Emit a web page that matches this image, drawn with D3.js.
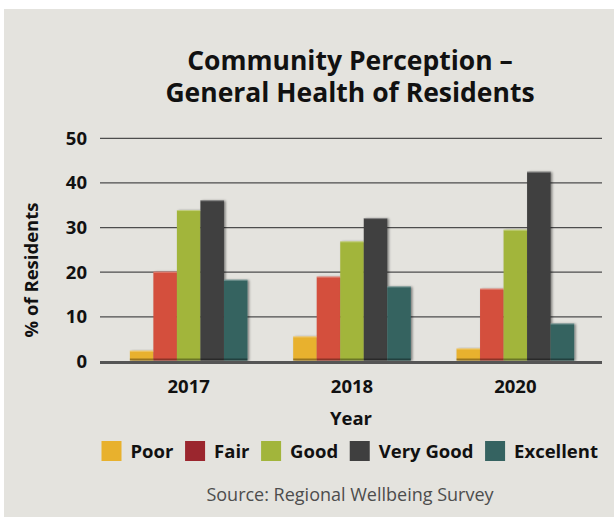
<!DOCTYPE html>
<html>
<head>
<meta charset="utf-8">
<script src="https://cdn.jsdelivr.net/npm/d3@7"></script>
<style>
  body { margin: 0; background: #fff; }
  svg { display: block; font-family: "Open Sans", sans-serif; }
</style>
</head>
<body>
<div id="chart"></div>
<script>
// data
var years = ["2017", "2018", "2020"];
var ratings = ["Poor", "Fair", "Good", "Very Good", "Excellent"];
var poor = [2.2, 5.4, 2.7];
var fair = [19.9, 18.8, 16.1];
var good = [33.7, 26.7, 29.3];
var veryGood = [35.9, 31.9, 42.3];
var excellent = [18.1, 16.6, 8.3];
var yTicks = [0, 10, 20, 30, 40, 50];

var barColors = ["#e8b12d", "#d44f3c", "#a2b53b", "#3f3f3f", "#356361"];
var legendColors = ["#e8b12d", "#9b262e", "#a2b53b", "#3f3f3f", "#356361"];

var series = [poor, fair, good, veryGood, excellent];
var rows = years.map(function(y, i) {
  return { year: y, values: ratings.map(function(r, j) { return { key: r, idx: j, value: series[j][i] }; }) };
});

var W = 614, H = 517;
var svg = d3.select("#chart").append("svg").attr("width", W).attr("height", H);

// bar shadow
var defs = svg.append("defs");
var f = defs.append("filter").attr("id", "shadow").attr("x", "-20%").attr("y", "-10%").attr("width", "150%").attr("height", "130%");
f.append("feDropShadow").attr("dx", 1.6).attr("dy", 0.5).attr("stdDeviation", 0.9)
  .attr("flood-color", "#000").attr("flood-opacity", 0.45);

svg.append("rect").attr("x", 4).attr("y", 9).attr("width", W - 4).attr("height", H - 9).attr("fill", "#e4e3de");

// title
var title = svg.append("text").attr("text-anchor", "middle").attr("font-weight", 700)
  .attr("font-size", 26.5).attr("fill", "#111");
title.append("tspan").attr("x", 350).attr("y", 70).text("Community Perception \u2013");
title.append("tspan").attr("x", 350).attr("y", 102).text("General Health of Residents");

var x0 = d3.scaleBand().domain(years).range([107, 597]).paddingInner(0.28).paddingOuter(0.14);
var x1 = d3.scaleBand().domain(ratings).range([0, x0.bandwidth()]);
var y = d3.scaleLinear().domain([0, 50]).range([360.5, 137.3]);

// gridlines + tick labels
var yAxis = d3.axisLeft(y).tickValues(yTicks).tickSize(-502).tickPadding(12).tickFormat(d3.format("d"));
var gy = svg.append("g").attr("transform", "translate(100,0)").call(yAxis);
gy.select(".domain").remove();
gy.selectAll(".tick line").attr("stroke", "#4d4d4d").attr("stroke-width", 1.3)
  .attr("transform", "translate(0,0.5)")
  .filter(function(d) { return d === 0; }).attr("stroke-opacity", 0);
gy.selectAll(".tick text").attr("font-size", 18.5).attr("font-weight", 700).attr("fill", "#111")
  .attr("font-family", "Open Sans").attr("x", -13).attr("dy", "0.38em");

// bars
var groups = svg.append("g").selectAll("g").data(rows).enter().append("g")
  .attr("transform", function(d) { return "translate(" + x0(d.year) + ",0)"; });

groups.selectAll("rect.bar").data(function(d) { return d.values; }).enter().append("rect")
  .attr("class", "bar")
  .attr("x", function(d) { return x1(d.key); })
  .attr("y", function(d) { return y(d.value); })
  .attr("width", x1.bandwidth())
  .attr("height", function(d) { return y(0) - y(d.value); })
  .attr("fill", function(d) { return barColors[d.idx]; })
  .attr("filter", "url(#shadow)");

// thin highlight on top edge
groups.selectAll("rect.hl").data(function(d) { return d.values; }).enter().append("rect")
  .attr("class", "hl")
  .attr("x", function(d) { return x1(d.key); })
  .attr("y", function(d) { return y(d.value); })
  .attr("width", x1.bandwidth())
  .attr("height", 1)
  .attr("fill", "#fff").attr("fill-opacity", 0.35);

// dark foot of each bar
groups.selectAll("rect.ft").data(function(d) { return d.values; }).enter().append("rect")
  .attr("class", "ft")
  .attr("x", function(d) { return x1(d.key); })
  .attr("y", y(0) - 2)
  .attr("width", x1.bandwidth())
  .attr("height", 2)
  .attr("fill", "#000").attr("fill-opacity", 0.35);

// zero line
svg.append("line").attr("x1", 100).attr("x2", 602).attr("y1", y(0) + 2).attr("y2", y(0) + 2)
  .attr("stroke", "#555").attr("stroke-width", 3);

// x labels
var xAxis = d3.axisBottom(x0).tickSize(0).tickPadding(0);
var gx = svg.append("g").attr("transform", "translate(0,393)").call(xAxis);
gx.select(".domain").remove();
gx.selectAll(".tick text").attr("font-size", 18.5).attr("font-weight", 700).attr("fill", "#111")
  .attr("font-family", "Open Sans").attr("dy", 0).attr("y", 0);

svg.append("text").attr("x", 351).attr("y", 425).attr("text-anchor", "middle")
  .attr("font-size", 18.5).attr("font-weight", 700).attr("fill", "#111").text("Year");

svg.append("text").attr("transform", "translate(38,270) rotate(-90)").attr("text-anchor", "middle")
  .attr("font-size", 18.5).attr("font-weight", 700).attr("fill", "#111").text("% of Residents");

// legend, spread between the left and right ends seen in the reference
var legLeft = 101.5, legRight = 598;
var leg = svg.append("g").attr("transform", "translate(" + legLeft + ",458)");
var items = leg.selectAll("g").data(ratings).enter().append("g");
items.append("rect").attr("width", 20).attr("height", 20).attr("y", -17)
  .attr("fill", function(d, i) { return legendColors[i]; });
items.append("text").attr("x", 29).attr("y", 0).attr("font-size", 18.5).attr("font-weight", 700)
  .attr("fill", "#111").text(function(d) { return d; });
var widths = [];
items.each(function() { widths.push(29 + d3.select(this).select("text").node().getComputedTextLength()); });
var gap = (legRight - legLeft - d3.sum(widths)) / (widths.length - 1);
var cx = 0;
items.each(function(d, i) {
  d3.select(this).attr("transform", "translate(" + cx + ",0)");
  cx += widths[i] + gap;
});

svg.append("text").attr("x", 350).attr("y", 501).attr("text-anchor", "middle")
  .attr("font-size", 18).attr("fill", "#4d4d4d").text("Source: Regional Wellbeing Survey");
</script>
</body>
</html>
